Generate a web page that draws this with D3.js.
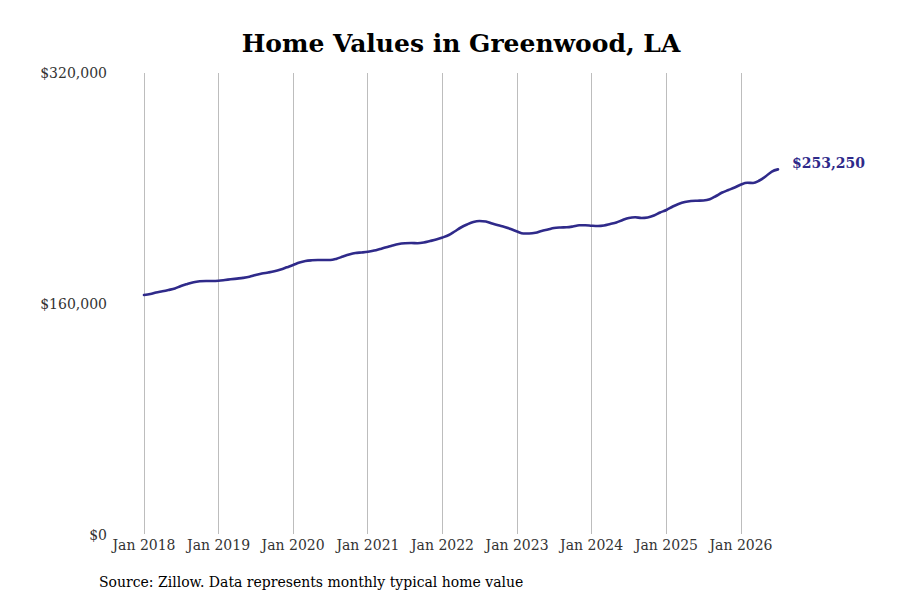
<!DOCTYPE html>
<html>
<head>
<meta charset="utf-8">
<script src="https://cdn.jsdelivr.net/npm/d3@7"></script>
<style>
  body { margin: 0; background: #fff; }
  svg text { font-family: "DejaVu Serif", serif; }
</style>
</head>
<body>
<div id="chart"></div>
<script>
// monthly typical home value, Jan 2018 .. Jul 2026
var startMonth = new Date(2018, 0, 1);
var values = [
  166230, 166900, 167970, 168800, 169700, 170740, 172470, 173850, 175100, 175720, 175930, 175950,
  176140, 176620, 177100, 177590, 178080, 178840, 180090, 181120, 181820, 182650, 183900, 185420,
  187010, 188740, 189780, 190270, 190480, 190480, 190450, 191380, 192900, 194280, 195320, 195670,
  196150, 197050, 198090, 199270, 200520, 201560, 202040, 202250, 202110, 202600, 203630, 204670,
  206060, 207790, 210220, 212990, 215060, 216800, 217490, 217140, 215760, 214510, 213330, 211950,
  210220, 208830, 208830, 209320, 210560, 211600, 212640, 212990, 213120, 213680, 214510, 214580,
  214230, 214020, 214370, 215410, 216450, 218180, 219570, 220050, 219570, 219910, 221300, 223370,
  225110, 227530, 229260, 230650, 231340, 231550, 231690, 232520, 234800, 237230, 238960, 240690,
  242770, 243950, 243810, 245540, 248310, 251770, 253250
];
var yTicks = [0, 160000, 320000];
var xTickYears = [2018, 2019, 2020, 2021, 2022, 2023, 2024, 2025, 2026];
var endLabel = '$253,250';

var data = values.map(function(v, i) {
  return { date: d3.timeMonth.offset(startMonth, i), value: v };
});

var width = 900, height = 600;
var svg = d3.select('#chart').append('svg')
  .attr('width', width)
  .attr('height', height);

var x = d3.scaleTime()
  .domain([new Date(2018, 0, 1), new Date(2026, 0, 1)])
  .range([144, 741]);

var y = d3.scaleLinear()
  .domain([0, 320000])
  .range([535, 73]);

var lineColor = '#2f2a8a';

// title
svg.append('text')
  .attr('x', 461)
  .attr('y', 52)
  .attr('text-anchor', 'middle')
  .style('font-size', '25px')
  .style('font-weight', 'bold')
  .attr('fill', '#000')
  .text('Home Values in Greenwood, LA');

// vertical gridlines + x labels
var xTicks = xTickYears.map(function(yr) { return new Date(yr, 0, 1); });

svg.selectAll('.grid')
  .data(xTicks)
  .enter()
  .append('line')
    .attr('class', 'grid')
    .attr('x1', function(d) { return x(d); })
    .attr('x2', function(d) { return x(d); })
    .attr('y1', y(320000))
    .attr('y2', 534)
    .attr('stroke', '#bdbdbd')
    .attr('stroke-width', 1)
    .attr('shape-rendering', 'crispEdges');

svg.selectAll('.xlab')
  .data(xTicks)
  .enter()
  .append('text')
    .attr('class', 'xlab')
    .attr('x', function(d) { return x(d); })
    .attr('y', 550)
    .attr('text-anchor', 'middle')
    .style('font-size', '14px')
    .attr('fill', '#333')
    .text(d3.timeFormat('%b %Y'));

// y labels
svg.selectAll('.ylab')
  .data(yTicks)
  .enter()
  .append('text')
    .attr('class', 'ylab')
    .attr('x', 107)
    .attr('y', function(d) { return y(d) + 5; })
    .attr('text-anchor', 'end')
    .style('font-size', '14px')
    .attr('fill', '#333')
    .text(function(d) { return '$' + d3.format(',')(d); });

// line
var line = d3.line()
  .curve(d3.curveMonotoneX)
  .x(function(d) { return x(d.date); })
  .y(function(d) { return y(d.value); });

svg.append('path')
  .datum(data)
  .attr('d', line)
  .attr('fill', 'none')
  .attr('stroke', lineColor)
  .attr('stroke-width', 2.6)
  .attr('stroke-linejoin', 'round')
  .attr('stroke-linecap', 'round');

// end label
var last = data[data.length - 1];
svg.append('text')
  .attr('x', x(last.date) + 14)
  .attr('y', y(last.value) - 1)
  .style('font-size', '14px')
  .style('font-weight', 'bold')
  .attr('fill', lineColor)
  .text(endLabel);

// source
svg.append('text')
  .attr('x', 99)
  .attr('y', 587)
  .style('font-size', '14px')
  .attr('fill', '#000')
  .text('Source: Zillow. Data represents monthly typical home value');
</script>
</body>
</html>
